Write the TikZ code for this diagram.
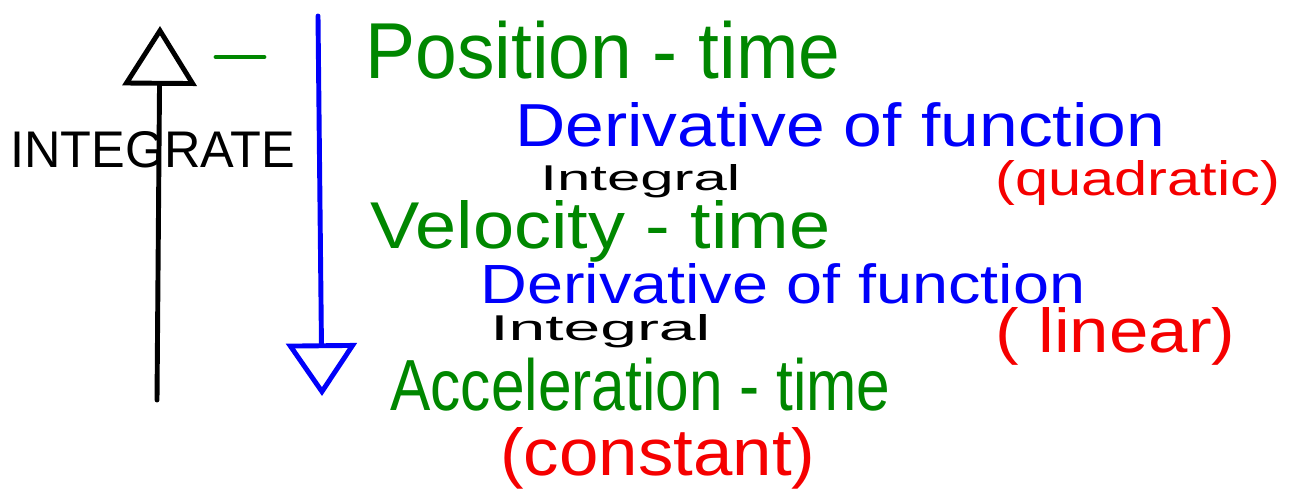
\documentclass[tikz,border=0pt]{standalone}
\usepackage{fontspec}
\setmainfont{Liberation Sans}
\usetikzlibrary{arrows.meta}
\definecolor{inkgreen}{RGB}{0,135,0}
\definecolor{inkblue}{RGB}{0,0,250}
\definecolor{inkred}{RGB}{245,0,0}
% stretch a word to a given width and height (above its baseline)
\newcommand\fitto[3]{\resizebox{#1}{#2}{#3}}
\begin{document}
\begin{tikzpicture}[x=0.02cm,y=-0.02cm,
  pen/.style={line width=2.8pt,line cap=round,line join=round},
  word/.style={inner sep=0pt,anchor=base west},
  heading/.style={word,text=inkgreen},
  deriv/.style={word,text=inkblue},
  integ/.style={word,text=black},
  kind/.style={word,text=inkred}]
\useasboundingbox (0,0) rectangle (1289,490);

% integrate axis, pointing up
\coordinate (ibot) at (157,400);
\coordinate (itop) at (160,26);
\draw[pen,-{Triangle[open,length=34pt,width=42pt,line width=2.8pt]}] (ibot) -- (itop);
\node[integ] (integrate) at (10,167) {\fitto{5.7cm}{0.72cm}{INTEGRATE}};

% green tick beside the arrow head
\coordinate (t1) at (216,57);
\coordinate (t2) at (264,57);
\draw[pen,inkgreen] (t1) -- (t2);

% differentiate axis, pointing down
\coordinate (dtop) at (318,16);
\coordinate (dbot) at (322,396);
\draw[pen,inkblue,-{Triangle[open,length=30pt,width=40pt,line width=2.8pt]}] (dtop) -- (dbot);

% graphs and their relations
\node[heading] (pos) at (365,78) {\fitto{9.5cm}{1.15cm}{Position - time}};
\node[deriv] (d1) at (515,146) {\fitto{13cm}{0.88cm}{Derivative of function}};
\node[kind] (quad) at (995,195) {\fitto{5.7cm}{0.7cm}{(quadratic)}};
\node[integ] (i1) at (540,190) {\fitto{4cm}{0.52cm}{Integral}};

\node[heading] (vel) at (370,248) {\fitto{9.2cm}{0.96cm}{Velocity - time}};
\node[deriv] (d2) at (480,303) {\fitto{12.1cm}{0.8cm}{Derivative of function}};
\node[integ] (i2) at (490,340) {\fitto{4.4cm}{0.52cm}{Integral}};
\node[kind] (lin) at (995,352) {\fitto{4.8cm}{0.9cm}{( linear)}};

\node[heading] (acc) at (390,410) {\fitto{10cm}{1.05cm}{Acceleration - time}};
\node[kind] (const) at (500,475) {\fitto{6.3cm}{0.96cm}{(constant)}};
\end{tikzpicture}
\end{document}
